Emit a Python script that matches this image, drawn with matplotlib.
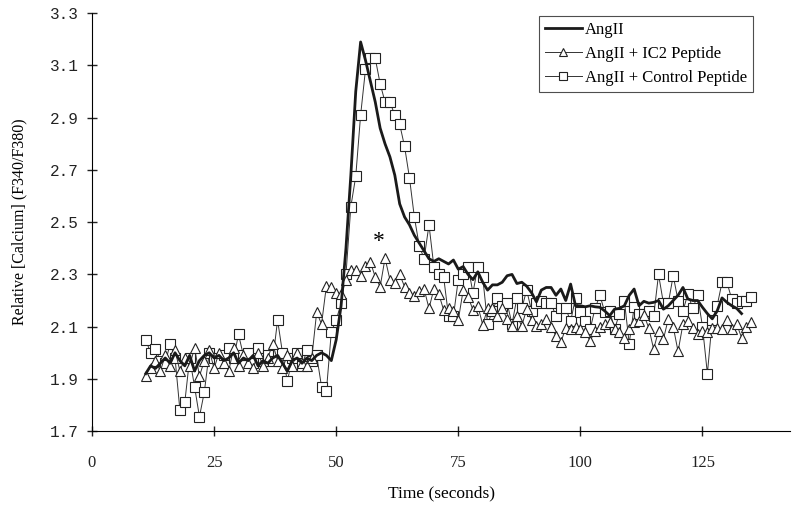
import numpy as np
import matplotlib.pyplot as plt

# time in seconds (one sample per second)
t_angii = np.arange(11, 134)
t_ic2 = np.arange(11, 136)
t_ctrl = np.arange(11, 136)

# AngII alone
angii = [1.92, 1.95, 1.94, 1.96, 1.98, 1.96, 2.00, 1.97, 1.95, 1.99,
         1.93, 1.97, 1.99, 2.00, 1.98, 1.99, 1.97, 1.98, 2.00, 1.96,
         1.98, 1.97, 1.99, 1.95, 1.97, 1.96, 1.98, 1.99, 1.96, 1.93,
         1.97, 1.98, 1.96, 1.98, 1.97, 1.99, 2.00, 1.99, 1.97, 2.05,
         2.18, 2.40, 2.68, 3.00, 3.19, 3.12, 3.04, 2.96, 2.86, 2.80,
         2.75, 2.68, 2.57, 2.52, 2.49, 2.45, 2.42, 2.39, 2.36, 2.35,
         2.36, 2.35, 2.34, 2.355, 2.32, 2.33, 2.30, 2.28, 2.31, 2.27,
         2.24, 2.26, 2.26, 2.27, 2.295, 2.30, 2.265, 2.27, 2.255, 2.23,
         2.195, 2.24, 2.25, 2.25, 2.22, 2.244, 2.20, 2.263, 2.18, 2.18,
         2.176, 2.18, 2.176, 2.174, 2.16, 2.142, 2.167, 2.17, 2.18, 2.22,
         2.244, 2.18, 2.197, 2.19, 2.193, 2.20, 2.167, 2.18, 2.20, 2.22,
         2.25, 2.206, 2.20, 2.20, 2.174, 2.15, 2.13, 2.16, 2.21, 2.193,
         2.18, 2.17, 2.15]

# AngII + IC2 peptide
ic2 = [1.91, 1.94, 1.97, 1.93, 1.99, 1.95, 2.01, 1.93, 1.98, 1.95,
       2.02, 1.91, 1.97, 2.01, 1.94, 2.00, 1.96, 1.93, 2.02, 1.95,
       1.99, 1.96, 1.94, 2.00, 1.95, 1.98, 2.035, 1.97, 1.94, 1.99,
       1.95, 2.00, 1.96, 1.95, 1.98, 2.155, 2.11, 2.257, 2.25, 2.23,
       2.225, 2.28, 2.317, 2.317, 2.295, 2.334, 2.347, 2.29, 2.253, 2.362,
       2.28, 2.266, 2.30, 2.253, 2.23, 2.219, 2.238, 2.244, 2.17, 2.244,
       2.225, 2.164, 2.17, 2.16, 2.125, 2.24, 2.215, 2.164, 2.18, 2.107,
       2.17, 2.17, 2.14, 2.17, 2.13, 2.103, 2.14, 2.103, 2.167, 2.125,
       2.103, 2.11, 2.129, 2.10, 2.065, 2.04, 2.095, 2.09, 2.10, 2.09,
       2.08, 2.045, 2.084, 2.10, 2.11, 2.116, 2.09, 2.08, 2.058, 2.09,
       2.116, 2.12, 2.145, 2.095, 2.014, 2.084, 2.052, 2.13, 2.10, 2.005,
       2.11, 2.12, 2.094, 2.07, 2.084, 2.08, 2.094, 2.094, 2.09, 2.125,
       2.09, 2.11, 2.058, 2.10, 2.116]

# AngII + control peptide
ctrl = [2.05, 2.00, 2.015, 1.97, 1.96, 2.035, 1.98, 1.78, 1.81, 1.98,
        1.87, 1.755, 1.85, 2.00, 1.98, 1.96, 1.99, 2.02, 1.98, 2.07,
        1.99, 2.00, 1.96, 2.02, 1.97, 1.99, 1.97, 2.125, 2.00, 1.89,
        1.98, 2.00, 1.95, 2.01, 1.97, 1.99, 1.87, 1.855, 2.08, 2.125,
        2.19, 2.30, 2.56, 2.675, 2.91, 3.085, 3.127, 3.127, 3.03, 2.96,
        2.96, 2.91, 2.875, 2.79, 2.67, 2.52, 2.41, 2.36, 2.49, 2.33,
        2.30, 2.29, 2.14, 2.14, 2.28, 2.30, 2.33, 2.23, 2.33, 2.29,
        2.11, 2.16, 2.21, 2.18, 2.19, 2.11, 2.21, 2.17, 2.24, 2.16,
        2.19, 2.20, 2.19, 2.19, 2.14, 2.17, 2.17, 2.12, 2.21, 2.155,
        2.12, 2.09, 2.17, 2.22, 2.155, 2.16, 2.09, 2.15, 2.20, 2.035,
        2.176, 2.15, 2.15, 2.16, 2.14, 2.30, 2.19, 2.19, 2.295, 2.20,
        2.16, 2.225, 2.17, 2.22, 2.10, 1.92, 2.125, 2.18, 2.27, 2.27,
        2.205, 2.19, 2.20, 2.197, 2.215]

serif = 'Liberation Serif'

fig = plt.figure(figsize=(8, 5.09), dpi=100)
ax = fig.add_axes([0.115, 0.153, 0.873, 0.821])

ax.plot(t_angii, angii, color='#1a1a1a', lw=2.0, label='AngII', zorder=4)
ax.plot(t_ic2, ic2, color='#333333', lw=0.7, marker='^', ms=7.5,
        mfc='white', mec='#222222', mew=0.8, label='AngII + IC2 Peptide', zorder=3)
ax.plot(t_ctrl, ctrl, color='#333333', lw=0.7, marker='s', ms=6.8,
        mfc='white', mec='#222222', mew=0.8, label='AngII + Control Peptide', zorder=2)

# significance mark
ax.text(58.8, 2.425, '*', fontsize=17, ha='center', va='center', family=serif)

ax.set_xlim(0, 143)
ax.set_ylim(1.7, 3.3)
ax.set_xticks([0, 25, 50, 75, 100, 125])
ax.set_yticks([1.7, 1.9, 2.1, 2.3, 2.5, 2.7, 2.9, 3.1, 3.3])
ax.set_yticklabels(['1.7', '1.9', '2.1', '2.3', '2.5', '2.7', '2.9', '3.1', '3.3'],
                   family='Liberation Mono', fontsize=11.5)
for lab in ax.get_xticklabels():
    lab.set_family(serif)
    lab.set_fontsize(12)

ax.spines['top'].set_visible(False)
ax.spines['right'].set_visible(False)
ax.tick_params(axis='both', direction='inout', length=7, width=1, colors='#222222')
ax.tick_params(axis='x', pad=14)
ax.tick_params(axis='y', pad=6)

ax.set_xlabel('Time (seconds)', family=serif, fontsize=12.5, labelpad=10)
ax.set_ylabel('Relative [Calcium] (F340/F380)', family=serif, fontsize=11.5, labelpad=16)

leg = ax.legend(loc='upper right', bbox_to_anchor=(0.9465, 0.994), borderaxespad=0,
                frameon=True, fancybox=False, edgecolor='#222222',
                prop={'family': serif, 'size': 12},
                handlelength=2.2, handletextpad=0.2, borderpad=0.35, labelspacing=0.5,
                markerscale=0.75)
leg.get_frame().set_linewidth(0.8)

fig.savefig('out.png', dpi=100)
